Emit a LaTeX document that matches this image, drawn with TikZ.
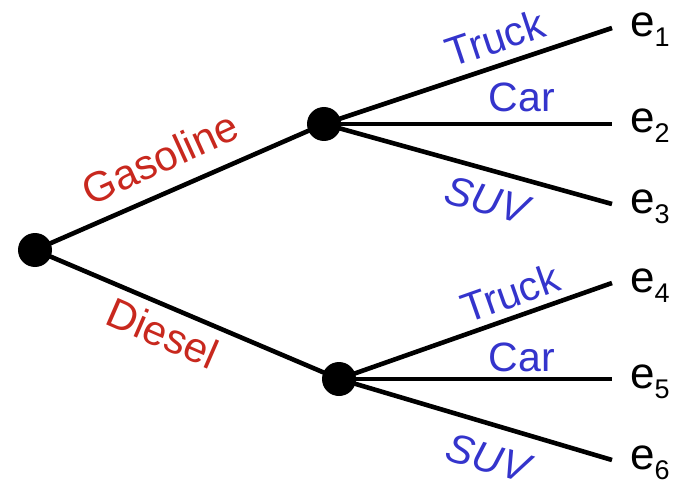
\documentclass[tikz,border=0pt]{standalone}
\usepackage{fontspec}
\setmainfont{Liberation Sans}
\definecolor{lred}{RGB}{200,40,30}
\definecolor{lblue}{RGB}{52,52,204}
\begin{document}
\begin{tikzpicture}[x=1pt,y=-1pt,
  dot/.style={circle,fill=black,inner sep=0pt,minimum size=34pt},
  br/.style={line width=4.6pt},
  fuel/.style={text=lred,inner sep=0pt,font=\fontsize{42}{50}\selectfont},
  kind/.style={text=lblue,inner sep=0pt,font=\fontsize{41}{49}\selectfont},
  leaf/.style={anchor=base west,inner sep=0pt,font=\fontsize{44}{52}\selectfont}]
\useasboundingbox (0,0) rectangle (682,481);
\node[dot] (r) at (35,250) {};
\node[dot] (g) at (324,124) {};
\node[dot] (d) at (339,379) {};
\coordinate (c1) at (612,28);
\coordinate (c2) at (612,124);
\coordinate (c3) at (612,204);
\coordinate (c4) at (612,283);
\coordinate (c5) at (612,379);
\coordinate (c6) at (612,460);
\draw[br] (r.center) -- (g.center);
\draw[br] (r.center) -- (d.center);
\draw[br] (g.center) -- (c1);
\draw[br] (g.center) -- (c2);
\draw[br] (g.center) -- (c3);
\draw[br] (d.center) -- (c4);
\draw[br] (d.center) -- (c5);
\draw[br] (d.center) -- (c6);
\node[fuel,rotate=24.5] (lg) at (160,158) {Gasoline};
\node[fuel,rotate=-23.5] (ld) at (163,333) {Diesel};
\node[kind,rotate=18.4] (t1) at (495,38) {Truck};
\node[kind] (a1) at (522,97) {Car};
\node[kind,rotate=-15.5] (s1) at (487,200) {\itshape SUV};
\node[kind,rotate=19.4] (t2) at (510,293) {Truck};
\node[kind] (a2) at (522,357) {Car};
\node[kind,rotate=-16.5] (s2) at (488,458) {\itshape SUV};
\newcommand{\leaflab}[1]{e\raisebox{-10pt}{\fontsize{27}{30}\selectfont #1}}
\node[leaf] (e1) at (630,37) {\leaflab{1}};
\node[leaf] (e2) at (630,133) {\leaflab{2}};
\node[leaf] (e3) at (630,213) {\leaflab{3}};
\node[leaf] (e4) at (630,292) {\leaflab{4}};
\node[leaf] (e5) at (630,388) {\leaflab{5}};
\node[leaf] (e6) at (630,469) {\leaflab{6}};
\end{tikzpicture}
\end{document}
